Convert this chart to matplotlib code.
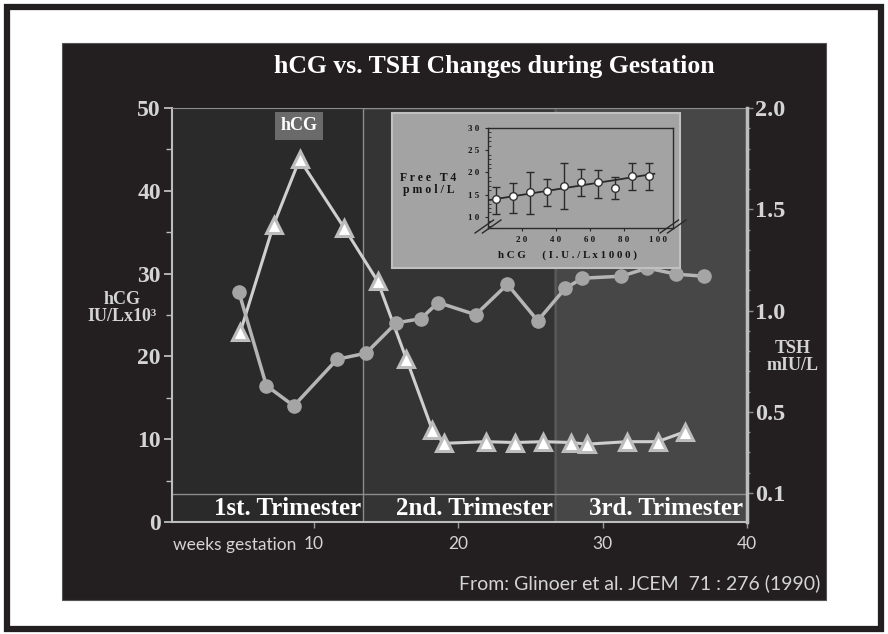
import matplotlib
matplotlib.use("Agg")
import matplotlib.pyplot as plt
from matplotlib.patches import Rectangle
import numpy as np

# ---------------- data ----------------
weeks_hcg = [4.9, 7.2, 9.0, 12.1, 14.4, 16.4, 18.2, 19.0, 21.9, 23.9, 25.9, 27.8, 28.9, 31.7, 33.8, 35.7]
hcg = [23.0, 35.9, 43.8, 35.5, 29.1, 19.7, 11.1, 9.5, 9.7, 9.6, 9.7, 9.6, 9.4, 9.7, 9.7, 10.9]

weeks_tsh = [4.8, 6.7, 8.6, 11.6, 13.6, 15.7, 17.4, 18.6, 21.2, 23.4, 25.5, 27.4, 28.6, 31.3, 33.1, 35.1, 37.0]
tsh = [1.09, 0.63, 0.53, 0.76, 0.79, 0.94, 0.96, 1.04, 0.98, 1.13, 0.95, 1.11, 1.16, 1.17, 1.21, 1.18, 1.17]

trimester_edges = [0.16, 13.4, 26.7, 39.9]
trimester_labels = ["1st. Trimester", "2nd. Trimester", "3rd. Trimester"]
trimester_colors = ["#2a2a2b", "#343434", "#474747"]

x_ticks = [10, 20, 30, 40]
left_ticks = [0, 10, 20, 30, 40, 50]
right_ticks = [0.1, 0.5, 1.0, 1.5, 2.0]
right_ticklabels = ["0.1", "0.5", "1.0", "1.5", "2.0"]

inset_hcg = [5, 15, 25, 35, 45, 55, 65, 75, 85, 95]
ft4 = [14.0, 14.6, 15.5, 15.9, 17.0, 17.9, 17.8, 16.5, 19.1, 19.2]
ft4_hi = [16.7, 17.7, 20.0, 18.5, 22.1, 20.8, 20.6, 18.9, 22.1, 22.1]
ft4_lo = [10.6, 10.8, 10.6, 12.5, 11.7, 14.6, 14.3, 14.0, 16.1, 16.1]
fit_x = [1, 98]
fit_y = [13.8, 19.7]
inset_yticks = [10, 15, 20, 25, 30]
inset_ytick_labels = ["1 0", "1 5", "2 0", "2 5", "3 0"]
inset_xticks = [20, 40, 60, 80, 100]
inset_xtick_labels = ["2 0", "4 0", "6 0", "8 0", "1 0 0"]

# ---------------- figure ----------------
W, H = 888, 634
fig = plt.figure(figsize=(W / 100, H / 100), dpi=100)
fig.patch.set_facecolor("white")

def fx(x):
    return x / W

def fy(y):
    return 1 - y / H

DARK = "#231f20"
SERIF = ["Liberation Serif", "DejaVu Serif"]
SANS = ["Lato", "DejaVu Sans"]
LIGHT = "#d4d4d4"

# outer black frame
fig.add_artist(Rectangle((fx(7), fy(629)), fx(874), 622 / H, transform=fig.transFigure,
                         fill=False, edgecolor=DARK, linewidth=4.5, zorder=-10))
# dark panel
fig.add_artist(Rectangle((fx(62), fy(600)), fx(764), 557 / H, transform=fig.transFigure,
                         facecolor=DARK, edgecolor="#555555", linewidth=0.8, zorder=-9))

# ---------------- main axes ----------------
ax = fig.add_axes([fx(172), fy(522), 575 / W, 414 / H])
ax.set_facecolor("none")
ax.set_xlim(trimester_edges[0], 40)
ax.set_ylim(0, 50)

for i in range(3):
    ax.axvspan(trimester_edges[i], trimester_edges[i + 1], color=trimester_colors[i], zorder=0, lw=0)
ax.add_patch(Rectangle((trimester_edges[1], 0), trimester_edges[2] - trimester_edges[1], 50,
                       fill=False, edgecolor="#8c8c8c", linewidth=1.0, zorder=1))
ax.add_patch(Rectangle((trimester_edges[2], 0), trimester_edges[3] - trimester_edges[2], 50,
                       fill=False, edgecolor="#5a5a5a", linewidth=1.0, zorder=1))
ax.axhline(3.4, color="#8c8c8c", lw=1.0, zorder=1)
for i, lab in enumerate(trimester_labels):
    ax.text(trimester_edges[i + 1] - 0.15, 1.6, lab, ha="right", va="center",
            color="white", fontsize=18, fontweight="bold", family=SERIF, zorder=3)

ax.plot(weeks_hcg, hcg, color="#cfcfcf", lw=2.2, zorder=4,
        marker="^", markersize=11.5, markerfacecolor="white", markeredgecolor="#bdbdbd",
        markeredgewidth=2.2)

for s in ["left", "bottom"]:
    ax.spines[s].set_color("#bdbdbd")
    ax.spines[s].set_linewidth(1.5)
ax.spines["top"].set_color("#8c8c8c")
ax.spines["right"].set_visible(False)

ax.set_yticks(left_ticks)
ax.set_yticks([5, 15, 25, 35, 45], minor=True)
ax.tick_params(axis="y", which="major", direction="out", length=6, width=1.3, color="#bdbdbd",
               labelcolor=LIGHT, labelsize=17, pad=2)
ax.tick_params(axis="y", which="minor", direction="out", length=4, width=1.0, color="#bdbdbd")
for t in ax.get_yticklabels():
    t.set_fontfamily(SERIF)
    t.set_fontweight("bold")

ax.set_xticks(x_ticks)
ax.tick_params(axis="x", direction="out", length=4, width=1.0, color="#9a9a9a",
               labelcolor=LIGHT, labelsize=12.5, pad=6)
for t in ax.get_xticklabels():
    t.set_fontfamily(SANS)

# right axis
ax2 = ax.twinx()
ax2.set_ylim(-0.043, 2.0)
ax2.plot(weeks_tsh, tsh, color="#b5b5b5", lw=2.5, zorder=5,
         marker="o", markersize=9.5, markerfacecolor="#a5a5a5", markeredgecolor="#a5a5a5")
for s in ["left", "top", "bottom"]:
    ax2.spines[s].set_visible(False)
ax2.spines["right"].set_color("#bdbdbd")
ax2.spines["right"].set_linewidth(2.5)
ax2.set_yticks(right_ticks)
ax2.set_yticklabels(right_ticklabels)
ax2.set_yticks(np.arange(0.2, 2.0, 0.1), minor=True)
ax2.tick_params(axis="y", which="major", direction="out", length=4, width=1.0, color="#8c8c8c",
                labelcolor=LIGHT, labelsize=17.5, pad=2)
ax2.tick_params(axis="y", which="minor", direction="out", length=2, width=1.0, color="#8c8c8c")
for t in ax2.get_yticklabels():
    t.set_fontfamily(SERIF)
    t.set_fontweight("bold")

# legend box "hCG"
fig.text(fx(299), fy(126), "hCG", ha="center", va="center", color="white", fontsize=13,
         fontweight="bold", family=SERIF,
         bbox=dict(boxstyle="square,pad=0.3", facecolor="#6a6a6a", edgecolor="none"))

# titles / labels
fig.text(fx(494), fy(66), "hCG vs. TSH Changes during Gestation", ha="center", va="center",
         color="white", fontsize=18.5, fontweight="bold", family=SERIF)
fig.text(fx(122), fy(308), "hCG\nIU/Lx10³", ha="center", va="center", color=LIGHT,
         fontsize=13, fontweight="bold", family=SERIF, linespacing=1.0)
fig.text(fx(793), fy(357), "TSH\nmIU/L", ha="center", va="center", color=LIGHT,
         fontsize=13, fontweight="bold", family=SERIF, linespacing=1.0)
fig.text(fx(173), fy(545), "weeks gestation", ha="left", va="center", color=LIGHT,
         fontsize=12.5, family=SANS)
fig.text(fx(820), fy(583), "From: Glinoer et al. JCEM  71 : 276 (1990)", ha="right",
         va="center", color=LIGHT, fontsize=14, family=SANS)

# ---------------- inset ----------------
fig.add_artist(Rectangle((fx(392), fy(268)), 288 / W, 155 / H, transform=fig.transFigure,
                         facecolor="#a3a3a3", edgecolor="#c0c0c0", linewidth=1.5, zorder=5))
axi = fig.add_axes([fx(488), fy(228), 185 / W, 100 / H])
axi.set_zorder(6)
axi.set_facecolor("#a3a3a3")
axi.set_xlim(0, 109)
axi.set_ylim(7.5, 30)
for s in axi.spines.values():
    s.set_color("#2a2a2a")
    s.set_linewidth(1.0)
err = [np.array(ft4) - np.array(ft4_lo), np.array(ft4_hi) - np.array(ft4)]
axi.errorbar(inset_hcg, ft4, yerr=err, fmt="none", ecolor="#2a2a2a", elinewidth=1.0,
             capsize=3, capthick=1.0, zorder=3)
axi.plot(fit_x, fit_y, color="#2a2a2a", lw=1.3, zorder=4)
axi.plot(inset_hcg, ft4, linestyle="none", marker="o", markersize=5.5,
         markerfacecolor="white", markeredgecolor="#333333", markeredgewidth=1.0, zorder=5)
axi.set_yticks(inset_yticks)
axi.set_yticklabels(inset_ytick_labels)
axi.set_yticks(np.arange(8, 30, 1), minor=True)
axi.set_xticks(inset_xticks)
axi.set_xticklabels(inset_xtick_labels)
axi.tick_params(axis="both", which="major", direction="out", length=2, color="#2a2a2a",
                labelsize=6.5, labelcolor="#151515", pad=4)
axi.tick_params(axis="y", which="minor", direction="in", length=2, color="#2a2a2a")
for t in axi.get_yticklabels() + axi.get_xticklabels():
    t.set_fontfamily(SERIF)
    t.set_fontweight("bold")
for xa in (0.0, 1.0):
    for d in (-0.02, 0.02):
        axi.plot([xa - 0.05 + d, xa + 0.05 + d], [-0.05, 0.08], transform=axi.transAxes,
                 color="#2a2a2a", lw=1.0, clip_on=False, zorder=6)

fig.text(fx(400), fy(184), "F r e e   T 4\n p m o l / L", ha="left", va="center",
         color="#151515", fontsize=8.5, fontweight="bold", family=SERIF, zorder=7,
         linespacing=0.95)
fig.text(fx(498), fy(255), "h C G      ( I . U . / L x 1 0 0 0 )", ha="left", va="center",
         color="#151515", fontsize=7.8, fontweight="bold", family=SERIF, zorder=7)

fig.savefig("out.png", dpi=100, facecolor="white")
